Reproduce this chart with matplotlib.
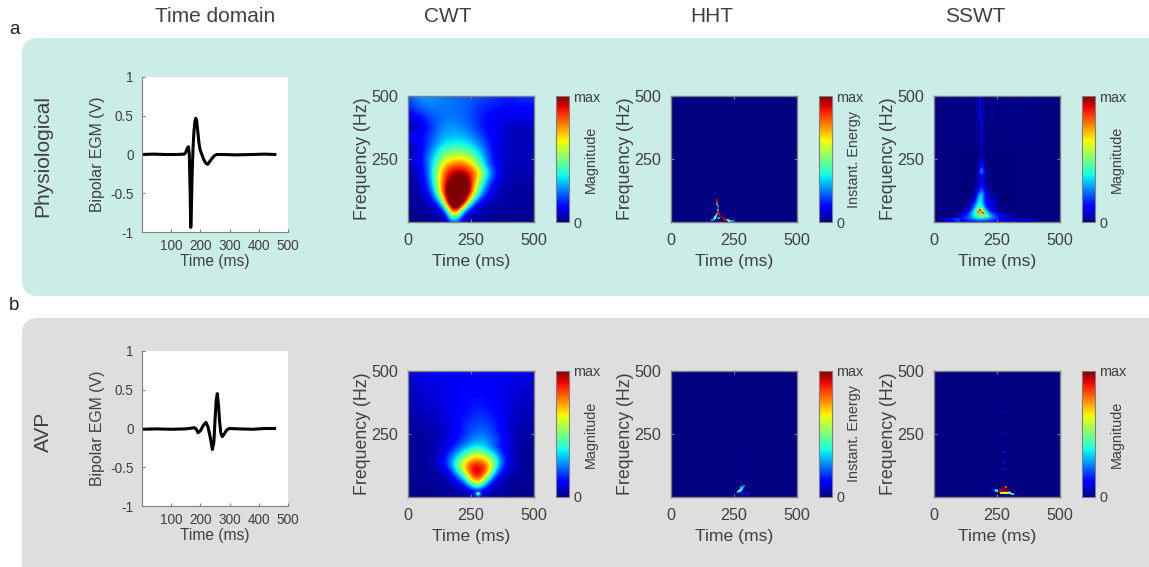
import numpy as np
import matplotlib
matplotlib.use("Agg")
import matplotlib.pyplot as plt
from matplotlib.patches import FancyBboxPatch

plt.rcParams['font.family'] = ['Liberation Sans', 'DejaVu Sans']

W, H = 1149, 567
GREY = '#7f7f7f'
TXT = '#404040'

# time domain traces
egm_a_t = [1, 40, 80, 120, 145, 150, 155, 159, 162, 165, 167, 169, 172, 175, 178, 181, 184, 187, 191, 195, 199, 205, 212, 219, 225, 232, 240, 248, 256, 280, 320, 380, 420, 455]
egm_a_v = [0, 0.005, 0, 0, 0.005, 0.03, 0.08, 0.1, 0.0, -0.5, -0.94, -0.72, -0.2, 0.1, 0.3, 0.42, 0.467, 0.44, 0.3, 0.15, 0.06, 0.0, -0.07, -0.115, -0.127, -0.09, -0.05, -0.015, 0, 0, -0.005, 0, 0.005, 0]
egm_b_t = [1, 50, 100, 150, 180, 186, 192, 200, 210, 219, 226, 233, 241, 246, 250, 254, 258, 262, 266, 270, 275, 282, 290, 299, 330, 380, 420, 454]
egm_b_v = [-0.01, -0.005, -0.01, -0.005, 0.01, -0.01, -0.055, -0.03, 0.04, 0.08, 0.02, -0.1, -0.27, -0.18, 0.1, 0.36, 0.45, 0.3, 0.08, -0.06, -0.105, -0.07, -0.02, 0, -0.005, -0.01, 0, 0]

# CWT magnitude, rows from 500 Hz down to 0 Hz, columns 0-500 ms, 25 steps
# (cells above 1 are saturated in the picture)
cwt_a = [
    [.20, .24, .27, .28, .27, .26, .25, .24, .23, .22, .21, .20, .19, .18, .17, .16, .16, .16, .17, .18, .18],
    [.18, .22, .25, .26, .26, .25, .24, .24, .23, .22, .21, .19, .18, .17, .16, .15, .14, .14, .15, .15, .15],
    [.15, .18, .21, .23, .24, .24, .24, .24, .23, .22, .20, .18, .16, .15, .13, .12, .12, .12, .12, .12, .12],
    [.11, .13, .16, .19, .22, .23, .24, .24, .23, .22, .20, .17, .15, .13, .12, .10, .10, .10, .10, .10, .10],
    [.07, .08, .11, .16, .20, .23, .25, .25, .24, .23, .20, .17, .14, .12, .10, .09, .08, .08, .08, .08, .09],
    [.04, .04, .07, .13, .19, .24, .27, .28, .27, .25, .22, .18, .14, .12, .10, .08, .07, .06, .05, .06, .07],
    [.10, .10, .12, .16, .21, .26, .29, .30, .29, .28, .25, .21, .16, .12, .10, .08, .06, .05, .05, .05, .06],
    [.13, .12, .13, .17, .22, .28, .32, .34, .34, .33, .30, .25, .19, .14, .10, .08, .06, .05, .05, .05, .05],
    [.05, .05, .09, .18, .26, .33, .39, .41, .41, .40, .36, .30, .23, .15, .10, .08, .06, .05, .05, .05, .05],
    [.04, .05, .11, .20, .30, .40, .48, .52, .53, .52, .46, .37, .27, .17, .10, .08, .06, .05, .05, .05, .05],
    [.09, .09, .12, .22, .34, .47, .59, .65, .67, .65, .58, .46, .32, .19, .11, .07, .06, .05, .05, .05, .05],
    [.05, .06, .11, .21, .37, .55, .72, .80, .83, .80, .72, .55, .37, .20, .11, .07, .05, .05, .05, .05, .05],
    [.03, .05, .09, .19, .39, .62, .83, .92, .95, .92, .85, .72, .48, .30, .15, .07, .05, .04, .04, .04, .04],
    [.02, .04, .08, .18, .38, .65, .88, 1.0, 1.1, 1.05, .90, .70, .44, .25, .12, .07, .05, .04, .04, .04, .04],
    [.02, .03, .07, .15, .35, .66, .92, 1.2, 1.25, 1.2, .90, .60, .35, .18, .09, .06, .04, .04, .03, .03, .03],
    [.02, .03, .05, .12, .28, .62, .95, 1.25, 1.3, 1.2, .88, .52, .27, .13, .07, .05, .04, .03, .03, .03, .03],
    [.02, .02, .04, .08, .19, .46, .92, 1.25, 1.3, 1.1, .72, .34, .16, .09, .06, .04, .03, .03, .03, .03, .03],
    [.02, .02, .03, .05, .10, .22, .72, 1.2, 1.2, .90, .36, .15, .08, .05, .04, .03, .03, .03, .03, .03, .03],
    [.02, .02, .02, .03, .04, .08, .30, .95, .90, .32, .12, .06, .04, .03, .03, .03, .03, .03, .02, .02, .02],
    [.01, .01, .02, .02, .03, .04, .08, .60, .42, .08, .04, .03, .03, .03, .02, .02, .02, .02, .02, .02, .02],
    [.01, .01, .01, .01, .02, .02, .03, .22, .18, .03, .02, .02, .02, .02, .01, .01, .01, .01, .01, .01, .01],
]
cwt_b = [
    [.07, .09, .10, .11, .11, .11, .12, .12, .12, .12, .12, .12, .12, .12, .11, .11, .11, .10, .10, .10, .09],
    [.06, .08, .09, .10, .10, .10, .11, .11, .11, .12, .12, .12, .12, .11, .11, .10, .10, .09, .09, .09, .08],
    [.06, .07, .08, .08, .09, .09, .10, .10, .11, .11, .11, .12, .11, .11, .10, .10, .09, .08, .08, .08, .07],
    [.06, .06, .07, .08, .08, .09, .09, .10, .11, .11, .12, .12, .12, .11, .10, .10, .08, .08, .07, .07, .06],
    [.05, .06, .06, .07, .08, .08, .09, .10, .11, .12, .13, .13, .13, .12, .11, .09, .08, .07, .07, .06, .06],
    [.05, .05, .06, .07, .07, .08, .09, .10, .11, .13, .14, .14, .14, .13, .11, .09, .08, .07, .06, .06, .05],
    [.05, .05, .06, .07, .07, .08, .09, .10, .12, .13, .14, .15, .15, .14, .12, .10, .08, .07, .06, .05, .05],
    [.04, .05, .05, .06, .06, .07, .08, .10, .12, .14, .16, .17, .17, .15, .13, .10, .08, .06, .05, .05, .04],
    [.04, .04, .04, .05, .05, .06, .07, .09, .12, .15, .17, .19, .19, .17, .14, .11, .08, .06, .05, .04, .04],
    [.03, .03, .04, .04, .05, .06, .07, .09, .12, .16, .19, .21, .21, .19, .15, .11, .08, .05, .04, .04, .03],
    [.03, .03, .03, .03, .04, .05, .07, .09, .13, .17, .21, .24, .24, .21, .17, .12, .08, .05, .04, .03, .03],
    [.03, .03, .03, .03, .04, .05, .07, .10, .15, .20, .25, .28, .28, .25, .20, .14, .09, .05, .04, .03, .03],
    [.02, .02, .02, .03, .04, .05, .08, .14, .20, .27, .33, .36, .33, .27, .18, .12, .08, .05, .03, .03, .02],
    [.02, .02, .02, .03, .04, .07, .12, .20, .30, .40, .50, .55, .50, .40, .28, .15, .08, .05, .03, .02, .02],
    [.02, .02, .02, .03, .05, .08, .15, .28, .42, .58, .70, .75, .70, .58, .40, .22, .10, .05, .03, .02, .02],
    [.02, .02, .02, .03, .04, .07, .14, .30, .50, .72, .87, .92, .87, .70, .42, .20, .09, .05, .03, .02, .02],
    [.02, .02, .02, .02, .03, .05, .08, .18, .38, .62, .88, .95, .88, .62, .28, .11, .06, .04, .03, .02, .02],
    [.01, .02, .02, .02, .03, .03, .05, .09, .20, .38, .72, .88, .72, .35, .12, .06, .04, .03, .02, .02, .02],
    [.01, .01, .02, .02, .02, .02, .03, .05, .08, .16, .38, .62, .36, .12, .06, .04, .03, .02, .02, .02, .01],
    [.01, .01, .01, .02, .02, .02, .03, .03, .04, .05, .08, .13, .08, .05, .04, .03, .02, .02, .01, .01, .01],
    [.01, .01, .01, .01, .01, .02, .02, .03, .03, .03, .04, .08, .04, .03, .03, .02, .02, .01, .01, .01, .01],
]
cwt_b_spot_t = [278, 278]
cwt_b_spot_f = [13, 13]
cwt_b_spot_v = [.2, .42]

# HHT ridge points
hht_a_t = [183, 184, 184, 185, 186, 187, 188, 184, 180, 175, 170, 165, 190, 195, 200, 205, 212, 218, 225, 232, 240, 250, 185, 192]
hht_a_f = [88, 80, 72, 64, 56, 48, 41, 33, 25, 18, 12, 8, 30, 24, 20, 16, 12, 9, 7, 5, 4, 3, 15, 15]
hht_a_v = [.95, .9, .3, .25, .95, .3, .9, .3, .4, .4, .45, .25, .95, 1, 1, 1, .95, .9, .5, .45, .3, .2, .25, .3]
hht_b_t = [268, 272, 276, 280, 284, 288, 270, 280, 290, 300, 310, 280, 281, 282]
hht_b_f = [21, 24, 29, 34, 39, 44, 15, 15, 15, 15, 15, 180, 140, 100]
hht_b_v = [.45, .45, .4, .35, .3, .22, .1, .1, .1, .1, .08, .05, .05, .04]

# SSWT low frequency part, rows 250 Hz down to 0 Hz, columns 100-325 ms, 12.5 steps
sswt_a = [
    [0, 0, 0, 0, 0, 0, .01, .08, 0, 0, 0, 0, 0, 0, 0, 0, 0, 0, 0],
    [0, 0, 0, 0, 0, 0, .02, .15, .01, 0, 0, 0, 0, 0, 0, 0, 0, 0, 0],
    [0, 0, 0, 0, 0, 0, .02, .18, .01, 0, 0, 0, 0, 0, 0, 0, 0, 0, 0],
    [0, 0, 0, 0, 0, 0, .03, .25, .02, 0, 0, 0, 0, 0, 0, 0, 0, 0, 0],
    [0, 0, 0, 0, 0, 0, .04, .42, .03, 0, 0, 0, 0, 0, 0, 0, 0, 0, 0],
    [0, 0, 0, 0, 0, 0, .05, .2, .03, .01, 0, 0, 0, 0, 0, 0, 0, 0, 0],
    [0, 0, 0, 0, 0, 0, .04, .14, .03, .01, 0, 0, 0, 0, 0, 0, 0, 0, 0],
    [0, 0, 0, 0, 0, 0, .04, .12, .04, .01, 0, 0, 0, 0, 0, 0, 0, 0, 0],
    [0, 0, 0, 0, 0, .01, .05, .14, .05, .02, .01, 0, 0, 0, 0, 0, 0, 0, 0],
    [0, 0, 0, 0, 0, .02, .08, .2, .07, .03, .01, 0, 0, 0, 0, 0, 0, 0, 0],
    [0, 0, 0, 0, .01, .03, .1, .25, .1, .04, .01, 0, 0, 0, 0, 0, 0, 0, 0],
    [0, 0, 0, 0, .01, .04, .2, .34, .15, .05, .02, .01, 0, 0, 0, 0, 0, 0, 0],
    [0, 0, 0, 0, .02, .06, .3, .4, .12, .08, .04, .02, .01, 0, 0, 0, 0, 0, 0],
    [0, 0, 0, .01, .03, .12, .33, .36, .14, .1, .1, .04, .01, 0, 0, 0, 0, 0, 0],
    [0, 0, 0, .02, .06, .22, .38, .38, .15, .08, .12, .1, .03, 0, 0, 0, 0, 0, 0],
    [0, 0, .01, .05, .12, .30, .42, .42, .22, .1, .08, .05, .02, 0, 0, 0, 0, 0, 0],
    [.01, .02, .05, .1, .2, .38, .5, .52, .33, .15, .08, .04, .02, .01, 0, 0, 0, 0, 0],
    [.02, .05, .1, .18, .3, .45, .58, .6, .48, .32, .2, .12, .08, .04, .02, .01, 0, 0, 0],
    [.1, .12, .16, .22, .32, .42, .5, .52, .45, .38, .3, .22, .15, .1, .08, .06, .05, .04, .03],
    [.16, .18, .2, .24, .28, .3, .32, .34, .32, .3, .26, .22, .18, .15, .12, .1, .08, .07, .05],
    [.06, .07, .08, .09, .1, .12, .13, .13, .12, .11, .1, .09, .08, .07, .05, .05, .04, .03, .02],
]
sswt_a_tail_t = [35, 45, 55, 65, 75, 85, 95, 335, 345, 355, 365, 375, 385, 395]
sswt_a_tail_v = [.05, .08, .1, .12, .14, .16, .18, .08, .07, .07, .06, .05, .04, .03]
speck_a_t = [176, 182, 188, 194, 200, 180, 190, 210]
speck_a_f = [38, 46, 40, 36, 28, 30, 52, 22]
speck_a_v = [.8, .85, .78, .82, .7, .72, .66, .65]
streak_a_t = [185, 183, 172, 195, 110, 60, 300, 370, 340, 230]
streak_a_lo = [250, 400, 300, 320, 330, 350, 300, 340, 400, 380]
streak_a_hi = [420, 495, 500, 480, 500, 500, 480, 500, 500, 500]
streak_a_v = [.08, .13, .05, .06, .03, .025, .025, .025, .03, .03]

sswt_b_t = [253, 258, 264, 270, 276, 282, 285, 262, 270, 278, 286, 294, 302, 268, 276, 284, 292, 300, 308, 313, 250, 245, 238, 230, 280, 279, 278, 284, 279]
sswt_b_f = [21, 24, 27, 30, 34, 38, 41, 22, 21, 21, 21, 21, 21, 15, 15, 15, 15, 16, 13, 12, 25, 26, 27, 26, 180, 140, 110, 255, 335]
sswt_b_v = [1, 1, .95, .95, 1, 1, .85, .95, .95, .9, .9, .9, .85, .55, .6, .6, .55, .5, .4, .35, .4, .35, .15, .08, .14, .13, .12, .05, .04]

row_names = ['Physiological', 'AVP']
col_names = ['Time domain', 'CWT', 'HHT', 'SSWT']
time_ticks = [100, 200, 300, 400, 500]
volt_ticks = [-1, -0.5, 0, 0.5, 1]
volt_labels = ['-1', '-0.5', '0', '0.5', '1']


def px_axes(fig, x0, y0, x1, y1):
    return fig.add_axes([x0 / W, 1 - y1 / H, (x1 - x0) / W, (y1 - y0) / H])


def style_box(ax):
    for s in ax.spines.values():
        s.set_color(GREY)
        s.set_linewidth(1.0)


def tf_panel(fig, bg, x0, y0, label):
    """Time-frequency axes with its colorbar, positions in pixels."""
    ax = px_axes(fig, x0, y0, x0 + 126, y0 + 126)
    ax.set_facecolor(plt.cm.jet(0.0))
    style_box(ax)
    ax.tick_params(direction='in', length=2, width=0.8, color=GREY, top=True, right=True,
                   labelsize=11.6, labelcolor=TXT)
    ax.tick_params(axis='x', pad=8)
    ax.tick_params(axis='y', pad=7)
    ax.set_xlim(0, 500)
    ax.set_ylim(0, 500)
    ax.set_xticks([0, 250, 500])
    ax.set_yticks([250, 500])
    ax.set_xlabel('Time (ms)', fontsize=12.6, color=TXT, labelpad=4)
    ax.set_ylabel('Frequency (Hz)', fontsize=12.8, color=TXT, labelpad=0)

    cax = px_axes(fig, x0 + 148, y0, x0 + 161, y0 + 126)
    sm = plt.cm.ScalarMappable(cmap='jet', norm=plt.Normalize(0, 1))
    cb = fig.colorbar(sm, cax=cax, ticks=[0, 1])
    cb.ax.set_yticklabels(['0', 'max'])
    cb.ax.tick_params(length=0, labelsize=10.4, labelcolor=TXT, pad=3)
    cb.outline.set_edgecolor(GREY)
    cb.outline.set_linewidth(0.8)
    bg.text(x0 + 183, y0 + 63, label, rotation=90, ha='center', va='center', fontsize=10.4, color=TXT)
    return ax


def points(ax, t, f, v, size=2.5):
    ax.scatter(t, f, c=v, s=size, marker='s', cmap='jet', vmin=0, vmax=1, linewidths=0, zorder=3)


def grid_image(ax, data, t0, t1, f0, f1, step):
    ax.imshow(data, cmap='jet', vmin=0, vmax=1, interpolation='bicubic', aspect='auto',
              extent=[t0 - step / 2, t1 + step / 2, f0 - step / 2, f1 + step / 2])
    ax.set_xlim(0, 500)
    ax.set_ylim(0, 500)


fig = plt.figure(figsize=(W / 100, H / 100), dpi=100, facecolor='white')

bg = fig.add_axes([0, 0, 1, 1])
bg.set_xlim(0, W)
bg.set_ylim(H, 0)
bg.axis('off')
bg.add_patch(FancyBboxPatch((22, 38), W + 40, 258, boxstyle='round,pad=0,rounding_size=16',
                            fc='#CBEDE8', ec='none'))
bg.add_patch(FancyBboxPatch((22, 318), W + 40, H, boxstyle='round,pad=0,rounding_size=16',
                            fc='#DEDEDE', ec='none'))

bg.text(15, 29, 'a', fontsize=13.5, ha='center', va='center', color='#222222')
bg.text(14, 305, 'b', fontsize=13.5, ha='center', va='center', color='#222222')
for name, cx in zip(col_names, [215, 448, 712, 975]):
    bg.text(cx, 17, name, fontsize=15, ha='center', va='center', color=TXT)
bg.text(43, 156, row_names[0], fontsize=15, rotation=90, ha='center', va='center', color=TXT)
bg.text(43, 432, row_names[1], fontsize=15, rotation=90, ha='center', va='center', color=TXT)

# time domain
for y0, t, v in [(77, egm_a_t, egm_a_v), (351, egm_b_t, egm_b_v)]:
    ax = px_axes(fig, 142, y0, 288, y0 + 155)
    ax.plot(t, v, color='black', lw=2.2, solid_joinstyle='round')
    ax.set_xlim(0, 500)
    ax.set_ylim(-1, 1)
    ax.set_xticks(time_ticks)
    ax.set_yticks(volt_ticks)
    ax.set_yticklabels(volt_labels)
    ax.spines['top'].set_visible(False)
    ax.spines['right'].set_visible(False)
    ax.spines['left'].set_color(GREY)
    ax.spines['bottom'].set_color(GREY)
    ax.tick_params(direction='in', length=2, width=0.8, color=GREY, labelsize=9.8, labelcolor=TXT)
    ax.tick_params(axis='x', pad=5)
    ax.tick_params(axis='y', pad=6)
    ax.set_xlabel('Time (ms)', fontsize=11.2, color=TXT, labelpad=1)
    ax.set_ylabel('Bipolar EGM (V)', fontsize=11.4, color=TXT, labelpad=4)

# physiological row
ax = tf_panel(fig, bg, 408, 96, 'Magnitude')
grid_image(ax, cwt_a, 0, 500, 0, 500, 25)
ax = tf_panel(fig, bg, 671, 96, 'Instant. Energy')
points(ax, hht_a_t, hht_a_f, hht_a_v)
ax = tf_panel(fig, bg, 934, 96, 'Magnitude')
ax.vlines(streak_a_t, streak_a_lo, streak_a_hi, colors=plt.cm.jet(streak_a_v), lw=1.2)
grid_image(ax, sswt_a, 100, 325, 0, 250, 12.5)
points(ax, sswt_a_tail_t, [7] * len(sswt_a_tail_t), sswt_a_tail_v, size=7)
points(ax, speck_a_t, speck_a_f, speck_a_v, size=2)

# AVP row
ax = tf_panel(fig, bg, 408, 371, 'Magnitude')
grid_image(ax, cwt_b, 0, 500, 0, 500, 25)
ax.scatter(cwt_b_spot_t, cwt_b_spot_f, c=cwt_b_spot_v, s=[30, 7], cmap='jet', vmin=0, vmax=1, linewidths=0)
ax = tf_panel(fig, bg, 671, 371, 'Instant. Energy')
points(ax, hht_b_t, hht_b_f, hht_b_v)
ax = tf_panel(fig, bg, 934, 371, 'Magnitude')
points(ax, sswt_b_t, sswt_b_f, sswt_b_v)

fig.savefig('out.png', dpi=100)
